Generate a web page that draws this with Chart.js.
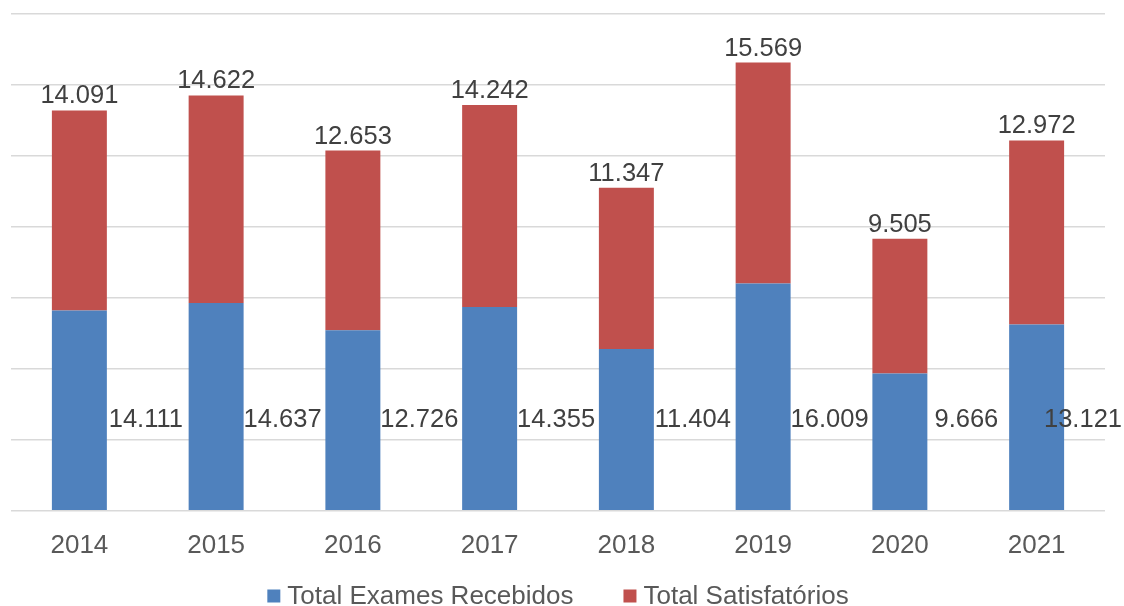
<!DOCTYPE html>
<html>
<head>
<meta charset="utf-8">
<script src="https://cdn.jsdelivr.net/npm/chart.js@4"></script>
<style>
    body { margin: 0; background: #ffffff; }
    #chart-wrap { width: 1124px; height: 606px; }
</style>
</head>
<body>
<div id="chart-wrap">
    <canvas id="exames-chart" width="1124" height="606"></canvas>
</div>
<script>
const years = ['2014', '2015', '2016', '2017', '2018', '2019', '2020', '2021'];
const examesRecebidos = [14111, 14637, 12726, 14355, 11404, 16009, 9666, 13121];
const satisfatorios = [14091, 14622, 12653, 14242, 11347, 15569, 9505, 12972];

const seriesLabels = ['Total Exames Recebidos', 'Total Satisfatórios'];
const seriesColors = ['#4f81bd', '#c0504d'];

const fontFamily = '"Liberation Sans", Arial, sans-serif';

function formatNumber(value) {
    return String(value).replace(/\B(?=(\d{3})+(?!\d))/g, '.');
}

// rótulos de valor: azul ao lado da barra, vermelho em cima
const valueLabels = {
    id: 'valueLabels',
    afterDatasetsDraw(chart) {
        const ctx = chart.ctx;
        const yScale = chart.scales.y;
        ctx.save();
        ctx.font = '25.5px ' + fontFamily;
        ctx.fillStyle = '#404040';
        ctx.textBaseline = 'alphabetic';

        chart.getDatasetMeta(0).data.forEach((bar, i) => {
            const text = formatNumber(examesRecebidos[i]);
            const w = ctx.measureText(text).width;
            let left = bar.x + bar.width / 2 + 39 - w / 2;
            left = Math.min(left, chart.width - 2 - w);
            ctx.textAlign = 'left';
            ctx.fillText(text, left, yScale.getPixelForValue(5900));
        });

        chart.getDatasetMeta(1).data.forEach((bar, i) => {
            const text = formatNumber(satisfatorios[i]);
            ctx.textAlign = 'center';
            ctx.fillText(text, bar.x, bar.y - 7);
        });
        ctx.restore();
    }
};

const bottomLegend = {
    id: 'bottomLegend',
    afterDraw(chart) {
        const ctx = chart.ctx;
        const boxSize = 13;
        const boxGap = 7;
        const itemGap = 50;
        ctx.save();
        ctx.font = '26px ' + fontFamily;
        const items = chart.data.datasets.map(ds => ({
            label: ds.label,
            color: ds.backgroundColor,
            width: ctx.measureText(ds.label).width
        }));
        const total = items.reduce((acc, it) => acc + boxSize + boxGap + it.width, 0) + itemGap * (items.length - 1);
        let x = (chart.width - total) / 2 - 4;
        const cy = chart.height - 10;
        ctx.textBaseline = 'middle';
        ctx.textAlign = 'left';
        for (const it of items) {
            ctx.fillStyle = it.color;
            ctx.fillRect(x, cy - boxSize / 2, boxSize, boxSize);
            x += boxSize + boxGap;
            ctx.fillStyle = '#595959';
            ctx.fillText(it.label, x, cy + 1);
            x += it.width + itemGap;
        }
        ctx.restore();
    }
};

new Chart(document.getElementById('exames-chart'), {
    type: 'bar',
    data: {
        labels: years,
        datasets: [
            {
                label: seriesLabels[0],
                data: examesRecebidos,
                backgroundColor: seriesColors[0],
                barPercentage: 0.402,
                categoryPercentage: 1
            },
            {
                label: seriesLabels[1],
                data: satisfatorios,
                backgroundColor: seriesColors[1],
                barPercentage: 0.402,
                categoryPercentage: 1
            }
        ]
    },
    options: {
        responsive: false,
        animation: false,
        layout: {
            padding: { left: 11, right: 19, top: 14, bottom: 34 }
        },
        plugins: {
            legend: { display: false },
            tooltip: { enabled: false }
        },
        scales: {
            x: {
                stacked: true,
                grid: { display: false },
                border: { display: false },
                ticks: {
                    padding: 11,
                    color: '#595959',
                    font: { family: fontFamily, size: 26 }
                }
            },
            y: {
                stacked: true,
                min: 0,
                max: 35000,
                ticks: { display: false, stepSize: 5000 },
                grid: { drawTicks: false, color: '#d9d9d9', lineWidth: 1.5 },
                border: { display: false }
            }
        }
    },
    plugins: [valueLabels, bottomLegend]
});
</script>
</body>
</html>
